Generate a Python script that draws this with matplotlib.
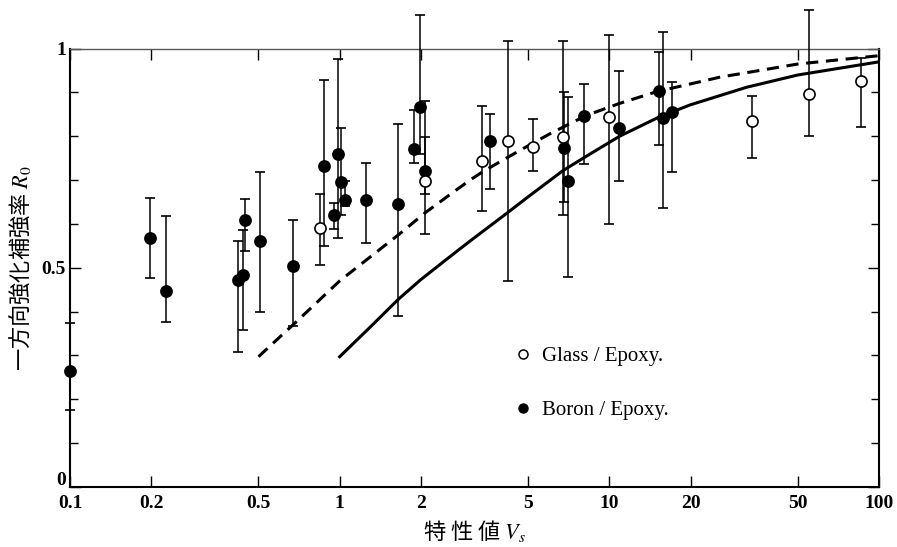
import matplotlib
matplotlib.use("Agg")
import matplotlib.pyplot as plt
import matplotlib.transforms as mtransforms
from matplotlib.lines import Line2D
from matplotlib.ticker import FixedLocator, MultipleLocator, NullLocator

plt.rcParams['mathtext.fontset'] = 'stix'

# -------------------------------
# Veriler
# -------------------------------
# Glass/Epoxy (açık daireler)
glass_vs = [0.845, 2.07, 3.36, 4.22, 5.21, 6.74, 9.97, 33.7, 55.1, 85.7]
glass_r = [0.590, 0.697, 0.743, 0.789, 0.775, 0.798, 0.845, 0.834, 0.897, 0.926]
glass_ust = [0.669, 0.881, 0.870, 1.018, 0.839, 1.018, 1.032, 0.891, 1.088, 0.979]
glass_alt = [0.507, 0.578, 0.629, 0.469, 0.721, 0.621, 0.599, 0.751, 0.800, 0.822]

# Boron/Epoxy (dolu daireler)
boron_vs = [0.1, 0.198, 0.227, 0.419, 0.437, 0.447, 0.506, 0.673, 0.872, 0.955,
            0.988, 1.011, 1.05, 1.248, 1.641, 1.89, 1.985, 2.08, 3.61, 6.8,
            7.0, 8.05, 10.9, 15.3, 15.8, 17.0]
boron_r = [0.264, 0.569, 0.446, 0.471, 0.483, 0.608, 0.562, 0.503, 0.732, 0.620,
           0.759, 0.695, 0.654, 0.654, 0.645, 0.771, 0.868, 0.720, 0.790, 0.774,
           0.697, 0.847, 0.820, 0.904, 0.842, 0.855]
boron_ust = [0.375, 0.660, 0.617, 0.561, 0.587, 0.658, 0.718, 0.610, 0.928, 0.648,
             0.977, 0.818, 0.698, 0.738, 0.829, 0.859, 1.077, 0.798, 0.850, 0.902,
             0.889, 0.920, 0.949, 0.992, 1.039, 0.923]
boron_alt = [0.175, 0.476, 0.377, 0.307, 0.358, 0.538, 0.399, 0.367, 0.549, 0.589,
             0.569, 0.620, 0.640, 0.557, 0.390, 0.738, 0.760, 0.669, 0.680, 0.651,
             0.479, 0.737, 0.699, 0.780, 0.637, 0.718]

# Teorik eğriler
kesikli_vs = [0.5, 0.6, 0.7, 0.82, 1.0, 1.3, 1.65, 2.07, 2.5, 3.04, 3.41, 4.66,
              6.03, 8.24, 10.9, 15.0, 25.7, 50.0, 100.0]
kesikli_r = [0.297, 0.342, 0.380, 0.420, 0.470, 0.525, 0.575, 0.625, 0.662, 0.700,
             0.720, 0.768, 0.806, 0.848, 0.875, 0.902, 0.935, 0.965, 0.984]
duz_vs = [1.0, 1.3, 1.65, 2.0, 2.5, 3.0, 4.22, 5.0, 6.74, 8.5, 10.9, 15.4,
          20.0, 32.3, 50.0, 100.0]
duz_r = [0.297, 0.365, 0.428, 0.473, 0.520, 0.558, 0.627, 0.662, 0.722, 0.760,
         0.800, 0.845, 0.872, 0.912, 0.940, 0.970]

x_ticks = [0.1, 0.2, 0.5, 1, 2, 5, 10, 20, 50, 100]
x_tick_labels = ["0.1", "0.2", "0.5", "1", "2", "5", "10", "20", "50", "100"]
y_ticks = [0, 0.5, 1]
y_tick_labels = ["0", "0.5", "1"]

# -------------------------------
# Grafik
# -------------------------------
fig = plt.figure(figsize=(8.97, 5.47), dpi=100)
ax = fig.add_axes([0.078, 0.11, 0.902, 0.801])

ax.plot(kesikli_vs, kesikli_r, color="black", lw=2.2, dashes=(4, 2.5))
ax.plot(duz_vs, duz_r, color="black", lw=2.2)


def hata_cubugu(vs, r, ust, alt, dolgu):
    hata = [[a - b for a, b in zip(r, alt)], [u - a for a, u in zip(r, ust)]]
    kap = ax.errorbar(vs, r, yerr=hata, fmt="o", ms=8, mfc=dolgu, mec="black",
                      mew=1.2, ecolor="black", elinewidth=1.1, capsize=3.5,
                      capthick=1.1, zorder=3)
    for parca in kap.lines:
        if isinstance(parca, tuple):
            for p in parca:
                p.set_clip_on(False)
        elif parca is not None:
            parca.set_clip_on(False)


hata_cubugu(boron_vs, boron_r, boron_ust, boron_alt, "black")
hata_cubugu(glass_vs, glass_r, glass_ust, glass_alt, "white")

ax.set_xscale("log")
ax.set_xlim(0.1, 100)
ax.set_ylim(0, 1)

ax.xaxis.set_major_locator(FixedLocator(x_ticks))
ax.xaxis.set_minor_locator(NullLocator())
ax.set_xticklabels(x_tick_labels)
ax.yaxis.set_major_locator(FixedLocator(y_ticks))
ax.yaxis.set_minor_locator(MultipleLocator(0.1))
ax.set_yticklabels(y_tick_labels)

ax.tick_params(which="both", direction="in", top=True, right=True, width=1.0)
ax.tick_params(which="major", length=8)
ax.tick_params(which="minor", length=6)
ax.tick_params(axis="x", pad=6)
ax.tick_params(axis="y", pad=3)
for lab in ax.get_xticklabels() + ax.get_yticklabels():
    lab.set_fontfamily("Liberation Serif")
    lab.set_fontweight("bold")
    lab.set_fontsize(14)

# "0" etiketini biraz yukarı al (0.1 ile çakışmasın)
sifir = ax.get_yticklabels()[0]
sifir.set_transform(sifir.get_transform() +
                    mtransforms.ScaledTranslation(0, 6 / 72, fig.dpi_scale_trans))

for s in ["left", "bottom", "right"]:
    ax.spines[s].set_linewidth(1.5)
ax.spines["top"].set_linewidth(1.0)
ax.spines["top"].set_color("0.35")

cjk = ["Noto Sans CJK JP", "DejaVu Sans"]
ax.set_ylabel("一方向強化補強率 $R_0$", family=cjk, fontsize=16, labelpad=6)
ax.set_xlabel("特 性 値 $V_s$", family=cjk, fontsize=16, labelpad=4)

# Lejant
tutamaklar = [
    Line2D([], [], marker="o", ls="none", ms=6.5, mfc="white", mec="black", mew=1.1),
    Line2D([], [], marker="o", ls="none", ms=6.5, mfc="black", mec="black"),
]
ax.legend(tutamaklar, ["Glass / Epoxy.", "Boron / Epoxy."], loc="upper left",
          bbox_to_anchor=(0.547, 0.32), frameon=False, handlelength=1.0,
          handletextpad=0.4, labelspacing=1.65, borderpad=0, borderaxespad=0,
          prop={"family": "Liberation Serif", "size": 15})

plt.savefig("out.png", dpi=100)
